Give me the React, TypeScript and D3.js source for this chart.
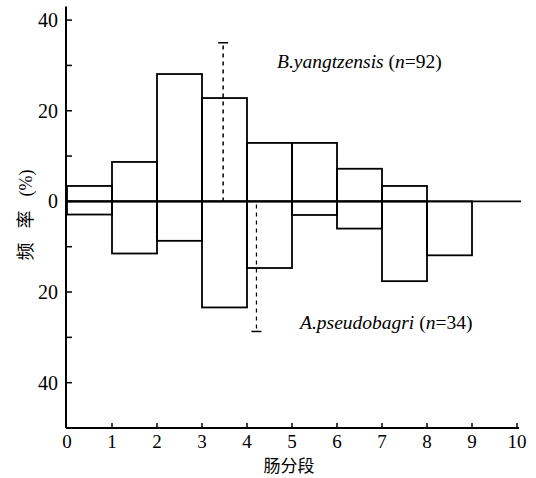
import * as d3 from "d3";

const bins = [0, 1, 2, 3, 4, 5, 6, 7, 8];
const upperVals = [3.4, 8.7, 28.1, 22.8, 12.9, 12.9, 7.2, 3.4, 0];
const lowerVals = [2.9, 11.5, 8.7, 23.4, 14.7, 3.0, 6.0, 17.6, 11.9];
const xTicks = [0, 1, 2, 3, 4, 5, 6, 7, 8, 9, 10];
const yMajor = [40, 20, 0, -20, -40];
const yMinor = [30, 10, -10, -30];
const upperErr = { x: 3.47, top: 35 };
const lowerErr = { x: 4.21, bottom: -28.7 };

const W = 536;
const H = 478;

export default function App() {
  const x = d3.scaleLinear().domain([0, 10]).range([67, 517]);
  const y = d3.scaleLinear().domain([-50, 43]).range([428, 6.5]);
  const serif = { fontFamily: "Liberation Serif" };
  const cjk = { fontFamily: "Noto Sans CJK SC" };

  return (
    <svg
      width={W}
      height={H}
      style={{ position: "absolute", left: 0, top: 0, background: "#fff" }}
    >
      {/* upper histogram */}
      {bins.map((b, i) =>
        upperVals[i] > 0 ? (
          <rect
            key={"u" + i}
            x={x(b)}
            y={y(upperVals[i])}
            width={x(b + 1) - x(b)}
            height={y(0) - y(upperVals[i])}
            fill="none"
            stroke="#000"
            strokeWidth={1.8}
          />
        ) : null
      )}
      {/* lower histogram */}
      {bins.map((b, i) => (
        <rect
          key={"l" + i}
          x={x(b)}
          y={y(0)}
          width={x(b + 1) - x(b)}
          height={y(-lowerVals[i]) - y(0)}
          fill="none"
          stroke="#000"
          strokeWidth={1.8}
        />
      ))}
      {/* zero line */}
      <line x1={x(0)} x2={x(10) + 4} y1={y(0)} y2={y(0)} stroke="#000" strokeWidth={1.8} />

      {/* error bars */}
      <line
        x1={x(upperErr.x)}
        x2={x(upperErr.x)}
        y1={y(0)}
        y2={y(upperErr.top)}
        stroke="#000"
        strokeWidth={1.5}
        strokeDasharray="4,4"
      />
      <line
        x1={x(upperErr.x) - 5}
        x2={x(upperErr.x) + 5}
        y1={y(upperErr.top)}
        y2={y(upperErr.top)}
        stroke="#000"
        strokeWidth={1.5}
      />
      <line
        x1={x(lowerErr.x)}
        x2={x(lowerErr.x)}
        y1={y(0) + 3}
        y2={y(lowerErr.bottom)}
        stroke="#000"
        strokeWidth={1.2}
        strokeDasharray="4,4"
      />
      <line
        x1={x(lowerErr.x) - 5}
        x2={x(lowerErr.x) + 5}
        y1={y(lowerErr.bottom)}
        y2={y(lowerErr.bottom)}
        stroke="#000"
        strokeWidth={1.5}
      />

      {/* axes */}
      <line x1={x(0) - 1} x2={x(0) - 1} y1={y(43)} y2={y(-50)} stroke="#000" strokeWidth={2} />
      <line x1={x(0) - 1} x2={x(10) + 2} y1={y(-50)} y2={y(-50)} stroke="#000" strokeWidth={2} />
      {yMajor.map((v) => (
        <g key={"ym" + v}>
          <line x1={x(0)} x2={x(0) + 5} y1={y(v)} y2={y(v)} stroke="#000" strokeWidth={1.5} />
          <text
            x={x(0) - 9}
            y={y(v)}
            dy="0.35em"
            textAnchor="end"
            style={serif}
            fontSize={20}
          >
            {Math.abs(v)}
          </text>
        </g>
      ))}
      {yMinor.map((v) => (
        <line key={"yn" + v} x1={x(0)} x2={x(0) + 5} y1={y(v)} y2={y(v)} stroke="#000" strokeWidth={1.5} />
      ))}
      {xTicks.map((t) => (
        <g key={"xt" + t}>
          {t > 0 ? (
            <line x1={x(t)} x2={x(t)} y1={y(-50)} y2={y(-50) - 5} stroke="#000" strokeWidth={1.5} />
          ) : null}
          <text
            x={x(t)}
            y={y(-50) + 20}
            textAnchor="middle"
            style={serif}
            fontSize={19}
          >
            {t}
          </text>
        </g>
      ))}

      {/* axis titles */}
      <text
        transform="translate(32,215) rotate(-90)"
        textAnchor="middle"
        style={serif}
        fontSize={18}
      >
        <tspan style={cjk}>频</tspan>
        <tspan style={cjk} dx={14}>率</tspan>
        <tspan dx={14}>(%)</tspan>
      </text>
      <text x={289} y={472} textAnchor="middle" style={cjk} fontSize={17}>
        肠分段
      </text>

      {/* series labels */}
      <text x={277} y={68} style={serif} fontSize={19.5}>
        <tspan fontStyle="italic">B.yangtzensis</tspan>
        <tspan> (</tspan>
        <tspan fontStyle="italic">n</tspan>
        <tspan>=92)</tspan>
      </text>
      <text x={300} y={329} style={serif} fontSize={19.5}>
        <tspan fontStyle="italic">A.pseudobagri</tspan>
        <tspan> (</tspan>
        <tspan fontStyle="italic">n</tspan>
        <tspan>=34)</tspan>
      </text>
    </svg>
  );
}
